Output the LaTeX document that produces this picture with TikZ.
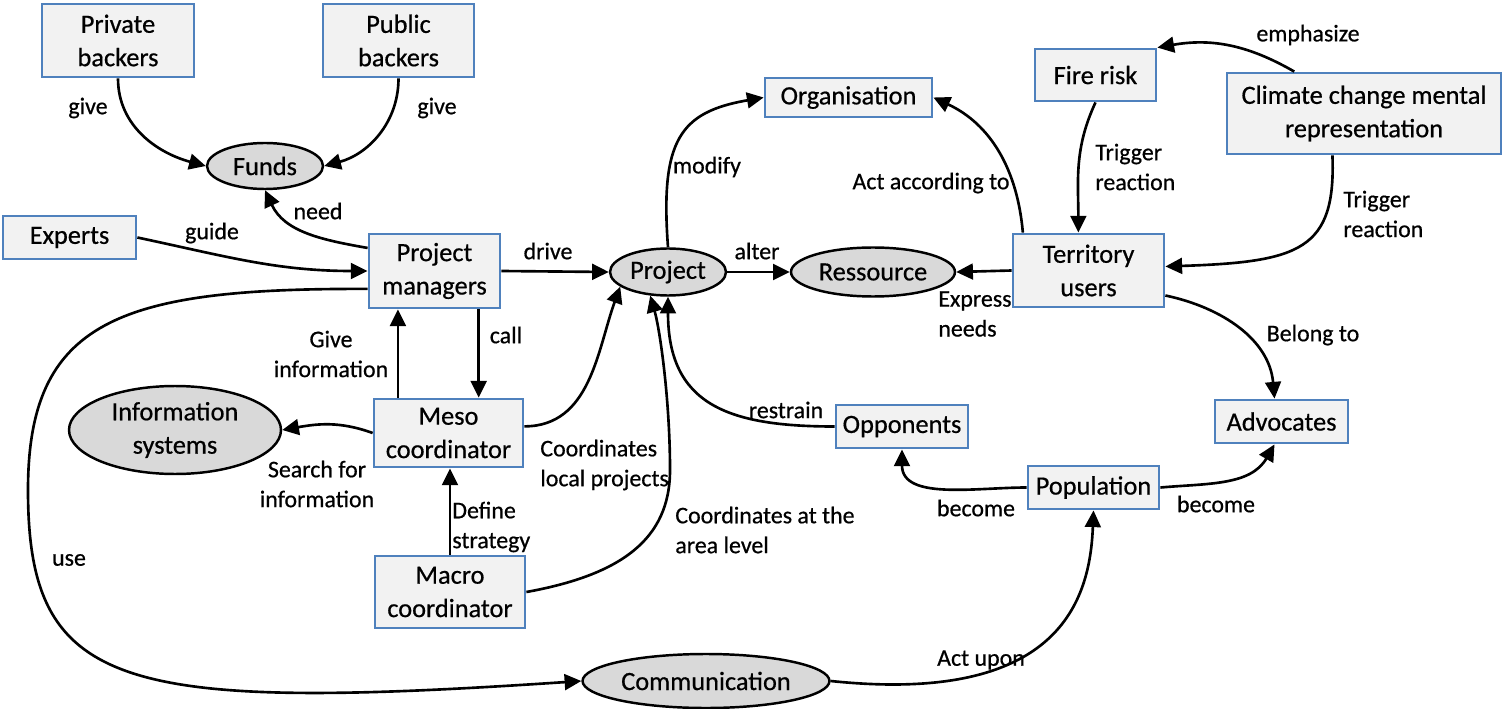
\documentclass[tikz,border=0pt]{standalone}
\usepackage{fontspec}
\setmainfont{Carlito}[FakeBold=0.6]
\usetikzlibrary{arrows.meta, shapes.geometric}

\definecolor{ActorBorder}{RGB}{79,129,189}
\definecolor{ActorFill}{RGB}{242,242,242}
\definecolor{ConceptFill}{RGB}{217,217,217}
\newcommand{\boxfont}{\fontsize{15}{19}\selectfont}
\newcommand{\relfont}{\fontsize{13.6}{17}\selectfont}
\tikzstyle{link} = [line width=1.5pt, -{Triangle[length=9.5pt, width=9pt]}]
\tikzset{
  actor/.style={rectangle, draw=ActorBorder, fill=ActorFill, line width=1.6pt, align=center, font=\boxfont, inner sep=0pt},
  concept/.style={ellipse, draw=black, fill=ConceptFill, line width=1.4pt, align=center, font=\boxfont, inner sep=0pt},
  relation/.style={font=\relfont, inner sep=0pt, align=center},
  relation left/.style={relation, align=left, anchor=west}
}

\begin{document}
\begin{tikzpicture}[x=0.02cm, y=0.02cm]
\useasboundingbox (0,0) rectangle (1503,-709);

% Backers and funds
\node[actor, minimum width=3.04cm, minimum height=1.46cm] (priv) at (118,-40.5) {Private\\backers};
\node[actor, minimum width=3.02cm, minimum height=1.46cm] (pub) at (398.5,-40.5) {Public\\backers};
\node[concept, minimum width=2.32cm, minimum height=0.92cm] (funds) at (265,-166) {Funds};

% Project side
\node[actor, minimum width=2.66cm, minimum height=0.86cm] (experts) at (69.5,-237.5) {Experts};
\node[actor, minimum width=2.62cm, minimum height=1.48cm] (pm) at (434.5,-271) {Project\\managers};
\node[actor, minimum width=2.98cm, minimum height=1.36cm] (meso) at (448.5,-433) {Meso\\coordinator};
\node[actor, minimum width=3.00cm, minimum height=1.44cm] (macro) at (450,-592) {Macro\\coordinator};
\node[concept, minimum width=4.24cm, minimum height=1.76cm] (infosys) at (175,-430) {Information\\systems};
\node[concept, minimum width=4.94cm, minimum height=1.08cm, inner xsep=-0.2cm] (comm) at (706,-681) {Communication};
\node[concept, minimum width=2.32cm, minimum height=0.94cm] (project) at (668,-272) {Project};
\node[concept, minimum width=3.28cm, minimum height=0.98cm] (ress) at (873,-272) {Ressource};
\node[actor, minimum width=3.34cm, minimum height=0.78cm] (org) at (848.5,-97.5) {Organisation};

% Territory side
\node[actor, minimum width=2.42cm, minimum height=1.04cm] (fire) at (1095.5,-75) {Fire risk};
\node[actor, minimum width=5.48cm, minimum height=1.62cm] (climate) at (1364,-113.5) {Climate change mental\\representation};
\node[actor, minimum width=3.02cm, minimum height=1.46cm] (terr) at (1088.5,-270.5) {Territory\\users};
\node[actor, minimum width=2.64cm, minimum height=0.86cm] (opp) at (902,-426.5) {Opponents};
\node[actor, minimum width=2.66cm, minimum height=0.86cm] (adv) at (1281.5,-421.5) {Advocates};
\node[actor, minimum width=2.62cm, minimum height=0.86cm] (pop) at (1093.5,-487.5) {Population};

% Funding links
\draw[link] (priv.south) to[out=-90, in=165] (funds.west);
\draw[link] (pub.south) to[out=-90, in=15] (funds.east);
\draw[link] (pm.161) to[out=170, in=-65] (funds.south);
\node[relation] (lgive1) at (88,-108) {give};
\node[relation] (lgive2) at (437,-108) {give};
\node[relation] (lneed) at (318,-211) {need};

% Managers and coordinators
\draw[link] (experts.east) to[out=-12, in=180] (pm.west);
\draw[link] (pm.east) -- (project.west);
\draw[link] (meso.145.5) -- (meso.145.5 |- pm.south);
\draw[link] (pm.-41.7) -- (pm.-41.7 |- meso.north);
\draw[link] (meso.west) to[out=160, in=10] (infosys.east);
\draw[link] (macro.north) -- (macro.north |- meso.south);
\draw[link] (meso.5) to[out=0, in=-110] (project.197);
\draw[link] (macro.east) .. controls (620,-575) and (670,-540) .. (670,-470)
  .. controls (670,-400) and (660,-330) .. (project.233);
\draw[link] (pm.195) .. controls (120,-288) and (28,-320) .. (28,-490)
  .. controls (28,-690) and (120,-712) .. (comm.west);
\node[relation] (lguide) at (212,-233) {guide};
\node[relation] (ldrive) at (548,-251) {drive};
\node[relation] (lgive) at (331,-354) {Give\\information};
\node[relation] (lcall) at (506,-335) {call};
\node[relation] (lsearch) at (317,-484) {Search for\\information};
\node[relation left] (ldefine) at (452,-527) {Define\\strategy};
\node[relation left] (llocal) at (540,-465) {Coordinates\\local projects};
\node[relation left] (larea) at (675,-530) {Coordinates at the\\area level};
\node[relation] (luse) at (69,-560) {use};

% Project links
\draw[link] (project.east) -- (ress.west);
\draw[link] (project.north) .. controls (660,-140) and (680,-112) .. (org.west);
\node[relation] (lalter) at (757,-251) {alter};
\node[relation] (lmodify) at (707,-167) {modify};

% Territory users
\draw[link] (terr.west) -- (ress.east);
\draw[link] (terr.150) to[out=95, in=-25] (org.east);
\draw[link] (fire.south) to[out=-115, in=90] (terr.105);
\draw[link] (climate.149) to[out=150, in=10] (fire.north east);
\draw[link] (climate.233) .. controls (1336,-250) and (1300,-262) .. (terr.3);
\draw[link] (terr.-18) to[out=-12, in=95] (adv.107);
\node[relation left] (lexpress) at (938,-314) {Express\\needs};
\node[relation] (lact) at (931,-183) {Act according to};
\node[relation left] (ltrig1) at (1095,-167) {Trigger\\reaction};
\node[relation] (lemph) at (1308,-35) {emphasize};
\node[relation left] (ltrig2) at (1343,-214) {Trigger\\reaction};
\node[relation] (lbelong) at (1313,-335) {Belong to};

% Population
\draw[link] (opp.west) to[out=180, in=-90, looseness=1.3] (project.south);
\draw[link] (pop.west) to[out=180, in=-90] (opp.south);
\draw[link] (pop.east) to[out=5, in=-120] (adv.253);
\draw[link] (comm.east) .. controls (1060,-705) and (1090,-600) .. (pop.south);
\node[relation] (lrestrain) at (786,-410) {restrain};
\node[relation] (lbecome1) at (976,-508) {become};
\node[relation] (lbecome2) at (1216,-504) {become};
\node[relation] (lupon) at (981,-660) {Act upon};
\end{tikzpicture}
\end{document}
